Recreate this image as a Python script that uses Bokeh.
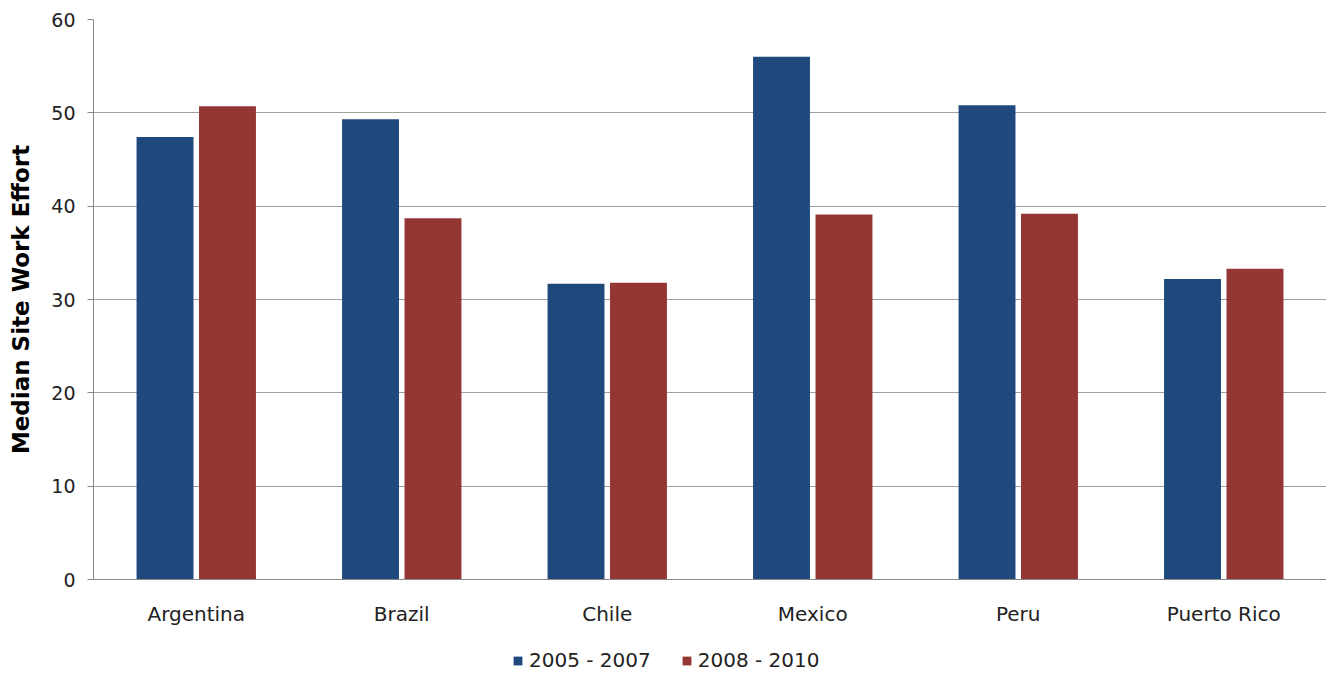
from bokeh.plotting import figure
from bokeh.layouts import column
from bokeh.models import ColumnDataSource, Legend, LegendItem, FactorRange, SingleIntervalTicker
from bokeh.transform import dodge
from bokeh.embed import file_html
from bokeh.resources import INLINE

countries = ["Argentina", "Brazil", "Chile", "Mexico", "Peru", "Puerto Rico"]
series_names = ["2005 - 2007", "2008 - 2010"]
v2005_2007 = [47.4, 49.3, 31.7, 56.0, 50.8, 32.2]
v2008_2010 = [50.7, 38.7, 31.8, 39.1, 39.2, 33.3]
colors = ["#1F497D", "#943634"]

src = ColumnDataSource(dict(country=countries, a=v2005_2007, b=v2008_2010))

FONT = "DejaVu Sans"
W = 1326

p = figure(x_range=FactorRange(*countries, range_padding=0), y_range=(0, 60),
           width=W, height=628, output_backend="svg", toolbar_location=None,
           min_border_left=93, min_border_top=19, min_border_right=0, min_border_bottom=48)
p.outline_line_color = None

r1 = p.vbar(x=dodge("country", -0.152, range=p.x_range), top="a", width=0.277,
            source=src, fill_color=colors[0], line_color=None)
r2 = p.vbar(x=dodge("country", 0.152, range=p.x_range), top="b", width=0.277,
            source=src, fill_color=colors[1], line_color=None)

p.yaxis.ticker = SingleIntervalTicker(interval=10)
p.ygrid.grid_line_color = "#A0A0A0"
p.ygrid.grid_line_width = 1
p.xgrid.grid_line_color = None

p.yaxis.axis_line_color = "#888888"
p.yaxis.major_tick_line_color = "#888888"
p.yaxis.major_tick_out = 6
p.yaxis.major_tick_in = 0
p.yaxis.minor_tick_line_color = None
p.yaxis.major_label_standoff = 12
p.yaxis.major_label_text_font = FONT
p.yaxis.major_label_text_font_size = "19px"
p.yaxis.major_label_text_color = "#222222"
p.yaxis.axis_label = "Median Site Work Effort"
p.yaxis.axis_label_text_font = FONT
p.yaxis.axis_label_text_font_style = "bold"
p.yaxis.axis_label_text_font_size = "23px"
p.yaxis.axis_label_text_color = "#000000"
p.yaxis.axis_label_standoff = 14

p.xaxis.axis_line_color = "#888888"
p.xaxis.major_tick_line_color = None
p.xaxis.minor_tick_line_color = None
p.xaxis.major_label_standoff = 16
p.xaxis.major_label_text_font = FONT
p.xaxis.major_label_text_font_size = "20px"
p.xaxis.major_label_text_color = "#222222"

# legend strip below the chart
nan = float("nan")
lg = figure(width=W, height=44, output_backend="svg", toolbar_location=None,
            x_range=(0, 1), y_range=(0, 1), min_border=0)
lg.axis.visible = False
lg.grid.visible = False
lg.outline_line_color = None
d1 = lg.vbar(x=[nan], top=[nan], width=0.1, fill_color=colors[0], line_color=None)
d2 = lg.vbar(x=[nan], top=[nan], width=0.1, fill_color=colors[1], line_color=None)
legend = Legend(items=[LegendItem(label=series_names[0], renderers=[d1]),
                       LegendItem(label=series_names[1], renderers=[d2])],
                orientation="horizontal", location=(419, 0))
legend.label_text_font = FONT
legend.label_text_font_size = "20px"
legend.label_text_color = "#222222"
legend.label_height = 16
legend.glyph_width = 11
legend.glyph_height = 11
legend.label_standoff = 6
legend.spacing = 30
legend.padding = 2
legend.margin = 0
legend.border_line_color = None
legend.background_fill_alpha = 0
lg.add_layout(legend)

layout = column(p, lg, spacing=0)
open("out.html", "w").write(file_html(layout, INLINE))
